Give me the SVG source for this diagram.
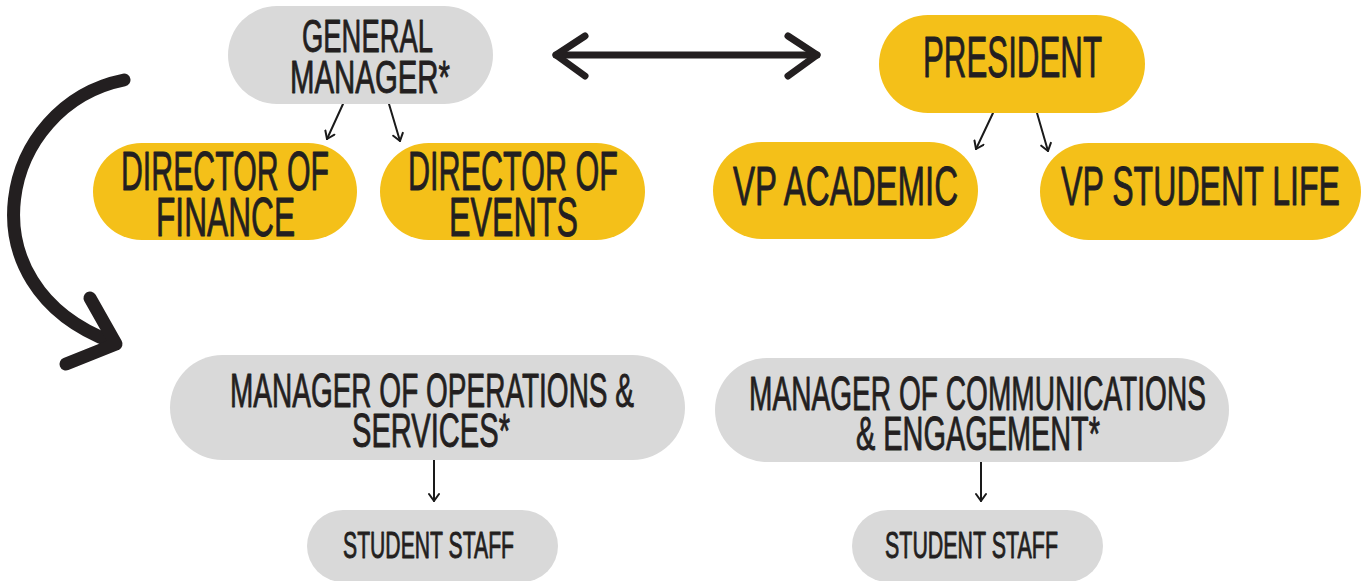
<svg xmlns="http://www.w3.org/2000/svg" width="1363" height="581" viewBox="0 0 1363 581">
<defs>
<style>
.y{fill:#F4C019}
.g{fill:#D9D9D9}
.t{font-family:"Liberation Sans","DejaVu Sans",sans-serif;font-weight:normal;fill:#231F20;stroke:#231F20;stroke-width:0.9;stroke-linejoin:round}
.thin{stroke:#1a1a1a;stroke-width:2;fill:none;stroke-linecap:round;stroke-linejoin:round}
.thick{stroke:#231F20;fill:none;stroke-linecap:round;stroke-linejoin:round}
</style>
<marker id="ah" viewBox="0 0 12 12" refX="10" refY="6" markerWidth="12" markerHeight="12" markerUnits="userSpaceOnUse" orient="auto">
<path d="M3,1 L10,6 L3,11" fill="none" stroke="#1a1a1a" stroke-width="2" stroke-linecap="round" stroke-linejoin="round"/>
</marker>
</defs>
<rect width="1363" height="581" fill="#ffffff"/>

<g id="connectors">
<line class="thin" x1="343" y1="104" x2="327" y2="139" marker-end="url(#ah)"/>
<line class="thin" x1="389" y1="104" x2="400" y2="141" marker-end="url(#ah)"/>
<line class="thin" x1="993" y1="113" x2="976" y2="149" marker-end="url(#ah)"/>
<line class="thin" x1="1037" y1="113" x2="1048" y2="151" marker-end="url(#ah)"/>
<line class="thin" x1="434" y1="460" x2="434" y2="501" marker-end="url(#ah)"/>
<line class="thin" x1="981" y1="462" x2="981" y2="501" marker-end="url(#ah)"/>
<g id="double-arrow">
<path class="thick" stroke-width="7" d="M556,55 L817,55"/>
<path class="thick" stroke-width="7" d="M585,36 L556,55 L585,76"/>
<path class="thick" stroke-width="7" d="M788,36 L817,55 L788,76"/>
</g>
<g id="curved-arrow">
<path class="thick" stroke-width="13" d="M124,80 C 0,105 -40,285 112,342"/>
<path class="thick" stroke-width="13" d="M90,298 L116,344 L66,364"/>
</g>
</g>

<g id="general-manager">
<rect class="g" x="228" y="6" width="265" height="98" rx="49"/>
<text class="t" font-size="46" x="302" y="52" textLength="131" lengthAdjust="spacingAndGlyphs">GENERAL</text>
<text class="t" font-size="46" x="290" y="93" textLength="160" lengthAdjust="spacingAndGlyphs">MANAGER*</text>
</g>

<g id="director-finance">
<rect class="y" x="93" y="143" width="264" height="97" rx="48.5"/>
<text class="t" font-size="55" x="121" y="190" textLength="208" lengthAdjust="spacingAndGlyphs">DIRECTOR OF</text>
<text class="t" font-size="55" x="156" y="236" textLength="139" lengthAdjust="spacingAndGlyphs">FINANCE</text>
</g>

<g id="director-events">
<rect class="y" x="380" y="143" width="265" height="97" rx="48.5"/>
<text class="t" font-size="55" x="408" y="190" textLength="210" lengthAdjust="spacingAndGlyphs">DIRECTOR OF</text>
<text class="t" font-size="55" x="449" y="236" textLength="129" lengthAdjust="spacingAndGlyphs">EVENTS</text>
</g>

<g id="president">
<rect class="y" x="879" y="15" width="266" height="98" rx="49"/>
<text class="t" font-size="57" x="923" y="77" textLength="179" lengthAdjust="spacingAndGlyphs">PRESIDENT</text>
</g>

<g id="vp-academic">
<rect class="y" x="713" y="142" width="265" height="97" rx="48.5"/>
<text class="t" font-size="56" x="733" y="205" textLength="225" lengthAdjust="spacingAndGlyphs">VP ACADEMIC</text>
</g>

<g id="vp-student-life">
<rect class="y" x="1040" y="143" width="321" height="97" rx="48.5"/>
<text class="t" font-size="56" x="1061" y="205" textLength="279" lengthAdjust="spacingAndGlyphs">VP STUDENT LIFE</text>
</g>

<g id="manager-operations">
<rect class="g" x="170" y="355" width="515" height="105" rx="52.5"/>
<text class="t" font-size="49" x="230" y="407" textLength="404" lengthAdjust="spacingAndGlyphs">MANAGER OF OPERATIONS &amp;</text>
<text class="t" font-size="49" x="352" y="447" textLength="158" lengthAdjust="spacingAndGlyphs">SERVICES*</text>
</g>

<g id="manager-communications">
<rect class="g" x="715" y="358" width="514" height="104" rx="52"/>
<text class="t" font-size="49" x="749" y="410" textLength="457" lengthAdjust="spacingAndGlyphs">MANAGER OF COMMUNICATIONS</text>
<text class="t" font-size="49" x="856" y="450" textLength="244" lengthAdjust="spacingAndGlyphs">&amp; ENGAGEMENT*</text>
</g>

<g id="student-staff-ops">
<rect class="g" x="307" y="510" width="251" height="72" rx="36"/>
<text class="t" font-size="36" x="343" y="558" textLength="171" lengthAdjust="spacingAndGlyphs">STUDENT STAFF</text>
</g>

<g id="student-staff-comms">
<rect class="g" x="852" y="510" width="251" height="72" rx="36"/>
<text class="t" font-size="36" x="885" y="558" textLength="173" lengthAdjust="spacingAndGlyphs">STUDENT STAFF</text>
</g>
</svg>
